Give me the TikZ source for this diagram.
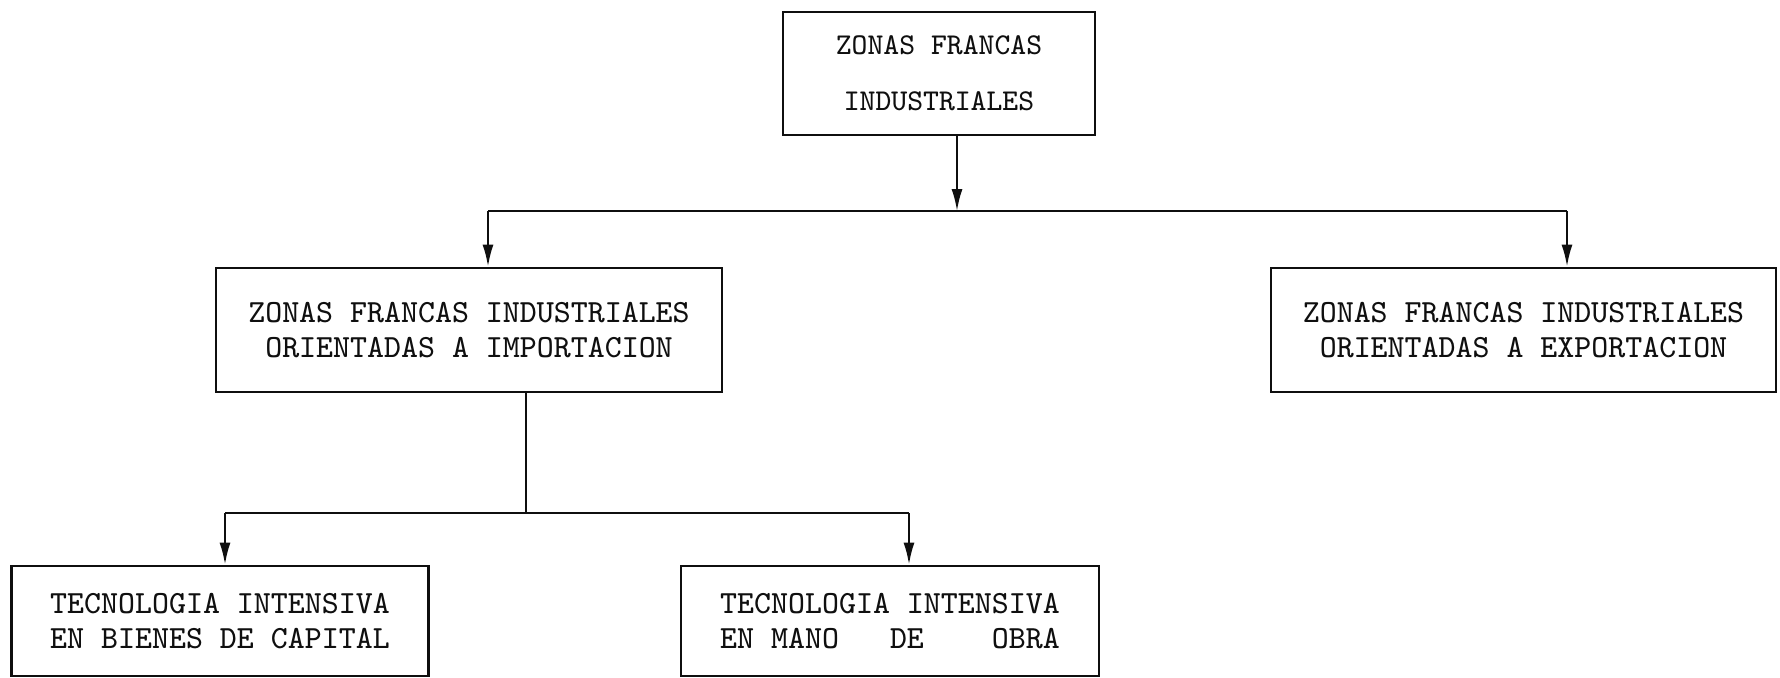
\documentclass[tikz,border=0pt]{standalone}
\usepackage{xcolor}
\usepackage{tikz}
\usetikzlibrary{arrows.meta, positioning, calc}
\definecolor{typeink}{RGB}{15, 15, 15}

\begin{document}
\begin{tikzpicture}[
    zone/.style={rectangle, draw=typeink, line width=0.8pt, text=typeink, align=center, inner sep=0pt, font=\ttfamily\fontsize{9.2}{10}\selectfont},
    link/.style={typeink, line width=0.6pt},
    feed/.style={-{Latex[length=2.2mm, width=1.1mm]}, typeink, line width=0.6pt}
]
    \useasboundingbox (0,0) rectangle (17.80,-6.77);

    \node[zone, minimum width=3.12cm, minimum height=1.23cm, font=\ttfamily\fontsize{8.6}{10}\selectfont] (zfi) at (9.39,-0.735) {ZONAS FRANCAS\\[6pt]INDUSTRIALES};
    \node[zone, minimum width=5.06cm, minimum height=1.24cm] (imp) at (4.69,-3.30) {ZONAS FRANCAS INDUSTRIALES\\ORIENTADAS A IMPORTACION};
    \node[zone, minimum width=5.05cm, minimum height=1.24cm] (exp) at (15.235,-3.30) {ZONAS FRANCAS INDUSTRIALES\\ORIENTADAS A EXPORTACION};
    \node[zone, minimum width=4.17cm, minimum height=1.10cm] (cap) at (2.20,-6.21) {TECNOLOGIA INTENSIVA\\EN BIENES DE CAPITAL};
    \node[zone, minimum width=4.18cm, minimum height=1.10cm] (obra) at (8.90,-6.21) {TECNOLOGIA INTENSIVA\\EN MANO\ \ \ DE\ \ \ \ OBRA};

    % upper branch
    \coordinate (busA) at (9.57,-2.11);
    \coordinate (busL) at (4.88,-2.11);
    \coordinate (busR) at (15.67,-2.11);
    \draw[feed] (busA |- zfi.south) -- (busA);
    \draw[link] (busL) -- (busR);
    \draw[feed] (busL) -- (busL |- imp.north);
    \draw[feed] (busR) -- (busR |- exp.north);

    % lower branch
    \coordinate (busB) at (5.26,-5.13);
    \coordinate (busBL) at (2.25,-5.13);
    \coordinate (busBR) at (9.09,-5.13);
    \draw[link] (busB |- imp.south) -- (busB);
    \draw[link] (busBL) -- (busBR);
    \draw[feed] (busBL) -- (busBL |- cap.north);
    \draw[feed] (busBR) -- (busBR |- obra.north);
\end{tikzpicture}
\end{document}
